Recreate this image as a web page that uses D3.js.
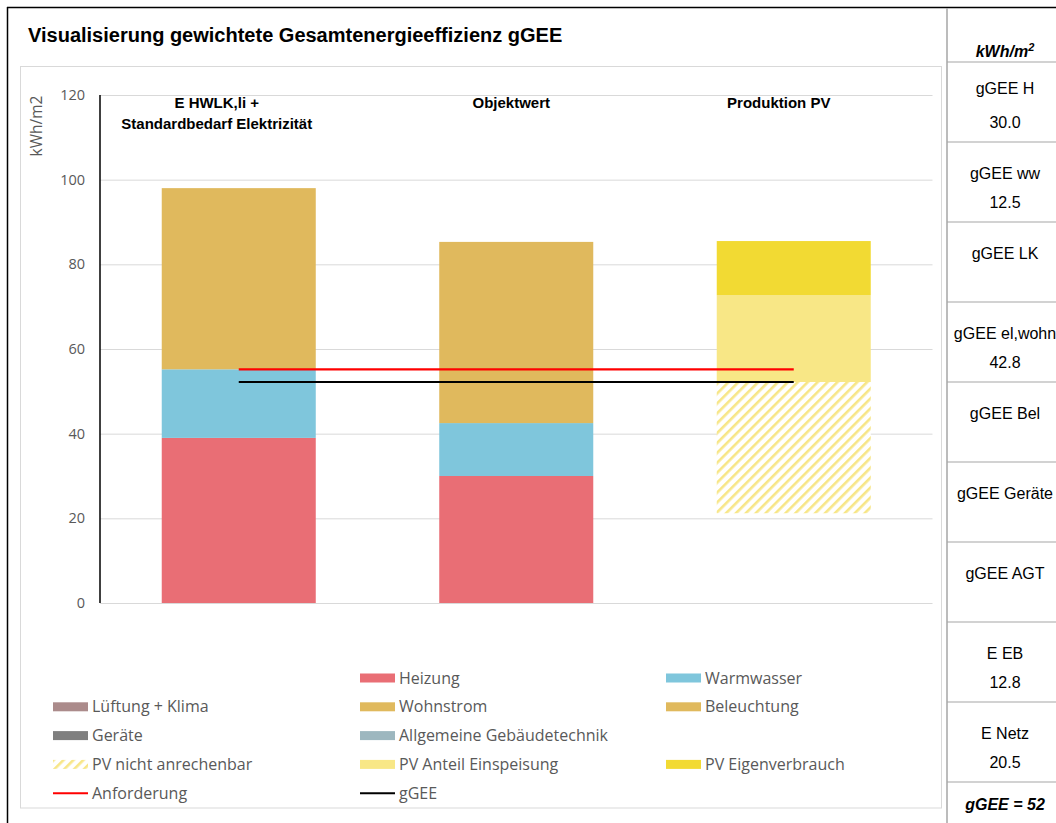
<!DOCTYPE html>
<html>
<head>
<meta charset="utf-8">
<script src="https://cdn.jsdelivr.net/npm/d3@7"></script>
<style>
  html, body { margin: 0; padding: 0; background: #fff; }
  svg { display: block; }
</style>
</head>
<body>
<svg id="chart" width="1056" height="823"></svg>
<script>
// ---------------- DATA ----------------
const categories = ["Ist", "Objektwert", "Produktion PV"];
const categoryLabels = [["E HWLK,li  +", "Standardbedarf Elektrizität"], ["Objektwert"], ["Produktion PV"]];

const heizung          = [39.0, 30.0, 0];
const warmwasser       = [16.2, 12.5, 0];
const wohnstrom        = [42.8, 42.8, 0];
const pvBasis          = [0, 0, 21.2];   // invisible base
const pvNichtAnrechenbar = [0, 0, 31.0];
const pvEinspeisung    = [0, 0, 20.5];
const pvEigenverbrauch = [0, 0, 12.8];

const anforderung = 55.2;
const gGEE = 52.2;

const yTicks = [0, 20, 40, 60, 80, 100, 120];
const yLabel = "kWh/m2";
const title = "Visualisierung gewichtete Gesamtenergieeffizienz gGEE";

const legendLabels = [
  [null, "Heizung", "Warmwasser"],
  ["Lüftung + Klima", "Wohnstrom", "Beleuchtung"],
  ["Geräte", "Allgemeine Gebäudetechnik", null],
  ["PV nicht anrechenbar", "PV Anteil Einspeisung", "PV Eigenverbrauch"],
  ["Anforderung", "gGEE", null]
];

const tableHeader = "kWh/m";
const tableLabels = ["gGEE H", "gGEE ww", "gGEE LK", "gGEE el,wohn", "gGEE Bel", "gGEE Geräte", "gGEE AGT", "E EB", "E Netz"];
const tableValues = ["30.0", "12.5", "", "42.8", "", "", "", "12.8", "20.5"];
const tableFooter = "gGEE = 52";

// ---------------- STYLE ----------------
const colors = {
  "Heizung": "#E96E75",
  "Warmwasser": "#7FC6DC",
  "Lüftung + Klima": "#AB8B8B",
  "Wohnstrom": "#E0B95D",
  "Beleuchtung": "#E0B95D",
  "Geräte": "#7F7F7F",
  "Allgemeine Gebäudetechnik": "#9DB7BF",
  "PV nicht anrechenbar": "#F7E687",
  "PV Anteil Einspeisung": "#F8E786",
  "PV Eigenverbrauch": "#F2DA33",
  "Anforderung": "#FF0000",
  "gGEE": "#000000"
};
const sans = "Liberation Sans, Arial, sans-serif";
const calib = "Open Sans, Lato, sans-serif";

const svg = d3.select("#chart");

// hatch pattern
const defs = svg.append("defs");
const pat = defs.append("pattern").attr("id", "hatch").attr("patternUnits", "userSpaceOnUse")
  .attr("width", 7).attr("height", 7).attr("patternTransform", "rotate(45)");
pat.append("rect").attr("width", 7).attr("height", 7).attr("fill", "#fff");
pat.append("rect").attr("x", 0).attr("y", 0).attr("width", 2.6).attr("height", 7).attr("fill", colors["PV nicht anrechenbar"]);

// outer border
svg.append("line").attr("x1", 7).attr("x2", 1056).attr("y1", 7.5).attr("y2", 7.5).attr("stroke", "#000").attr("stroke-width", 1.5);
svg.append("line").attr("x1", 7.5).attr("x2", 7.5).attr("y1", 7).attr("y2", 823).attr("stroke", "#000").attr("stroke-width", 1.5);

// title
svg.append("text").attr("x", 28).attr("y", 42).text(title)
  .attr("font-family", sans).attr("font-weight", "bold").attr("font-size", 20).attr("fill", "#000");

// chart inner box
svg.append("rect").attr("x", 20.5).attr("y", 66.5).attr("width", 921).attr("height", 741.5)
  .attr("fill", "none").attr("stroke", "#D9D9D9").attr("stroke-width", 1);

// scales
const x = d3.scaleBand().domain(categories).range([100, 932.5]).paddingInner(0.445).paddingOuter(0.2225);
const y = d3.scaleLinear().domain([0, 120]).range([603, 95]);

// gridlines
const grid = svg.append("g").attr("transform", "translate(100,0)")
  .call(d3.axisLeft(y).tickValues(yTicks).tickSize(-832.5).tickFormat(""));
grid.select(".domain").remove();
grid.selectAll(".tick line").attr("stroke", "#D9D9D9").attr("stroke-width", 1);

// y axis labels
const yAx = svg.append("g").attr("transform", "translate(100,0)")
  .call(d3.axisLeft(y).tickValues(yTicks).tickSize(0).tickPadding(15));
yAx.select(".domain").remove();
yAx.selectAll(".tick text").attr("font-family", calib).attr("font-size", 14.5).attr("fill", "#595959");

// y axis title
svg.append("text").attr("transform", "translate(42,126) rotate(-90)").attr("text-anchor", "middle")
  .attr("font-family", calib).attr("font-size", 15.5).attr("fill", "#595959").text(yLabel);

// stacked bars
const seriesKeys = ["Basis", "Heizung", "Warmwasser", "Wohnstrom", "PV nicht anrechenbar", "PV Anteil Einspeisung", "PV Eigenverbrauch"];
const seriesVals = [pvBasis, heizung, warmwasser, wohnstrom, pvNichtAnrechenbar, pvEinspeisung, pvEigenverbrauch];
const rows = categories.map((c, i) => {
  const r = { cat: c };
  seriesKeys.forEach((k, j) => r[k] = seriesVals[j][i]);
  return r;
});
const stack = d3.stack().keys(seriesKeys)(rows);
const barsG = svg.append("g");
stack.forEach(layer => {
  if (layer.key === "Basis") return;
  const fill = layer.key === "PV nicht anrechenbar" ? "url(#hatch)" : colors[layer.key];
  barsG.selectAll(null).data(layer.filter(d => d[1] - d[0] > 0)).enter().append("rect")
    .attr("x", d => x(d.data.cat))
    .attr("width", x.bandwidth())
    .attr("y", d => y(d[1]))
    .attr("height", d => y(d[0]) - y(d[1]))
    .attr("fill", fill);
});

// y axis line
svg.append("line").attr("x1", 100).attr("x2", 100).attr("y1", y(120)).attr("y2", y(0))
  .attr("stroke", "#000").attr("stroke-width", 1.5);

// reference lines
const cx = c => x(c) + x.bandwidth() / 2;
const lineGen = d3.line().x(d => cx(d[0])).y(d => y(d[1]));
svg.append("path").attr("d", lineGen([[categories[0], anforderung], [categories[2], anforderung]]))
  .attr("stroke", colors["Anforderung"]).attr("stroke-width", 2.2).attr("fill", "none");
svg.append("path").attr("d", lineGen([[categories[0], gGEE], [categories[2], gGEE]]))
  .attr("stroke", colors["gGEE"]).attr("stroke-width", 2.2).attr("fill", "none");

// category labels
const labelDx = [-22, -5, -15];
categoryLabels.forEach((lines, i) => {
  lines.forEach((t, k) => {
    svg.append("text").attr("x", cx(categories[i]) + labelDx[i]).attr("y", 108 + k * 21)
      .attr("text-anchor", "middle").attr("font-family", sans)
      .attr("font-weight", "bold").attr("font-size", 15).attr("fill", "#000").text(t);
  });
});

// legend
const legCols = [53, 360, 666];
const legRow0 = 678, legRowStep = 28.8;
const legG = svg.append("g");
legendLabels.forEach((row, r) => {
  row.forEach((lab, c) => {
    if (!lab) return;
    const lx = legCols[c], ly = legRow0 + r * legRowStep;
    if (lab === "Anforderung" || lab === "gGEE") {
      legG.append("line").attr("x1", lx).attr("x2", lx + 35).attr("y1", ly).attr("y2", ly)
        .attr("stroke", colors[lab]).attr("stroke-width", 2);
    } else {
      legG.append("rect").attr("x", lx).attr("y", ly - 4.5).attr("width", 35).attr("height", 9)
        .attr("fill", lab === "PV nicht anrechenbar" ? "url(#hatch)" : colors[lab]);
    }
    legG.append("text").attr("x", lx + 39).attr("y", ly + 5.5)
      .attr("font-family", calib).attr("font-size", 16).attr("fill", "#595959").text(lab);
  });
});

// right table
const tx = 947, tcx = 1005;
svg.append("line").attr("x1", tx).attr("x2", tx).attr("y1", 8).attr("y2", 823).attr("stroke", "#A6A6A6").attr("stroke-width", 1.5);
const hdr = svg.append("text").attr("x", tcx).attr("y", 57).attr("text-anchor", "middle")
  .attr("font-family", sans).attr("font-weight", "bold").attr("font-style", "italic")
  .attr("font-size", 16).attr("fill", "#000");
hdr.append("tspan").text(tableHeader);
hdr.append("tspan").attr("dy", -6).attr("font-size", 11).text("2");
const rowTop0 = 62, rowH = 80;
for (let i = 0; i <= tableLabels.length; i++) {
  svg.append("line").attr("x1", tx).attr("x2", 1056).attr("y1", rowTop0 + i * rowH).attr("y2", rowTop0 + i * rowH)
    .attr("stroke", "#A6A6A6").attr("stroke-width", 1.2);
}
tableLabels.forEach((lab, i) => {
  const top = rowTop0 + i * rowH;
  svg.append("text").attr("x", tcx).attr("y", top + (i === 0 ? 32 : 36.5)).attr("text-anchor", "middle")
    .attr("font-family", sans).attr("font-size", 16).attr("fill", "#000").text(lab);
  if (tableValues[i]) {
    svg.append("text").attr("x", tcx).attr("y", top + 66).attr("text-anchor", "middle")
      .attr("font-family", sans).attr("font-size", 16).attr("fill", "#000").text(tableValues[i]);
  }
});
svg.append("text").attr("x", tcx).attr("y", 810).attr("text-anchor", "middle")
  .attr("font-family", sans).attr("font-weight", "bold").attr("font-style", "italic")
  .attr("font-size", 16).attr("fill", "#000").text(tableFooter);
</script>
</body>
</html>
